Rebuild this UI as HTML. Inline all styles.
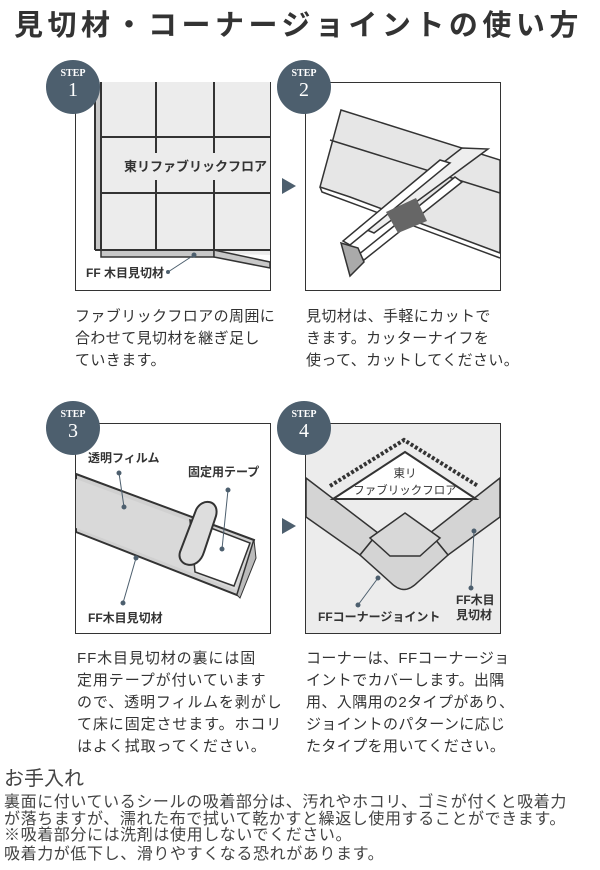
<!DOCTYPE html>
<html><head><meta charset="utf-8"><style>
body{margin:0;width:600px;height:870px;background:#fff;position:relative;overflow:hidden;font-family:"Liberation Sans","Noto Sans CJK JP",sans-serif;color:#333}
.a{position:absolute;white-space:nowrap}
.title{left:14px;top:2px;font-size:29px;font-weight:bold;letter-spacing:4.5px;color:#333}
.t{font-size:15px;color:#333;letter-spacing:0.4px}
.circ{position:absolute;width:54px;height:54px;border-radius:50%;background:#4d5f6e;color:#fff;text-align:center;font-family:"Liberation Serif",serif;font-weight:bold}
.circ .s{font-size:10px;display:block;margin-top:9px;line-height:10px}
.circ .n{font-size:20px;display:block;line-height:22px;font-weight:normal}
</style></head><body>
<div class="a title">見切材・コーナージョイントの使い方</div>

<svg class="a" style="left:0;top:0" width="600" height="870">
<!-- panel 1 -->
<rect x="75.5" y="82.5" width="195" height="208" fill="#fff" stroke="#333"/>
<polygon points="95,82 270,82 270,255 95,250" fill="#ececec"/>
<polygon points="95,82 101,82 101,250 95,250" fill="#c8c8c8"/>
<polygon points="101,250 214,250 214,257 101,257" fill="#c8c8c8" stroke="#333" stroke-width="1.5"/>
<polygon points="214,250 270,262 270,268 214,257" fill="#c8c8c8" stroke="#333" stroke-width="1.5"/>
<g stroke="#333" stroke-width="2" fill="none">
<line x1="95" y1="82" x2="95" y2="250"/><line x1="101" y1="82" x2="101" y2="250"/>
<line x1="95" y1="250" x2="270" y2="250"/>
<line x1="101" y1="137" x2="270" y2="137"/><line x1="101" y1="193" x2="270" y2="193"/>
<line x1="156" y1="82" x2="156" y2="153"/><line x1="156" y1="180" x2="156" y2="250"/>
<line x1="214" y1="82" x2="214" y2="153"/><line x1="214" y1="180" x2="214" y2="250"/>
</g>
<line x1="168" y1="272" x2="194" y2="255" stroke="#4d5f6e"/><circle cx="168" cy="272" r="2" fill="#4d5f6e"/><circle cx="194" cy="255" r="2.5" fill="#4d5f6e"/>
<text x="124" y="171" font-size="13" font-weight="bold" fill="#333">東リファブリックフロア</text>
<text x="86" y="277" font-size="12" font-weight="bold" fill="#333">FF 木目見切材</text>
<polygon points="282,178 282,194 296,186" fill="#4d5f6e"/>

<!-- panel 2 -->
<rect x="305.5" y="82.5" width="195" height="208" fill="#fff" stroke="#333"/>
<polygon points="341,110 500,160 500,253 350,197 320,187" fill="#e6e6e6" stroke="#333" stroke-width="1.5"/>
<polyline points="330,140 500,193" fill="none" stroke="#333" stroke-width="1.5"/>
<polyline points="320,187 322,192 500,258" fill="none" stroke="#333" stroke-width="1.5"/>
<polygon points="462,148 488,149 374,233 360,227" fill="#eee" stroke="#333" stroke-width="1.5"/>
<polygon points="440,160 450,163 350,245 343,241" fill="#fff" stroke="#333" stroke-width="1.5"/>
<polygon points="455,177 462,182 364,260 358,255" fill="#fff" stroke="#333" stroke-width="1.5"/>
<polygon points="386,212 416,198 427,221 398,233" fill="#666"/>
<polygon points="341,243 358,248 364,262 350,276" fill="#aaa" stroke="#333" stroke-width="1.5"/>

<!-- panel 3 -->
<rect x="75.5" y="423.5" width="195" height="210" fill="#fff" stroke="#333"/>
<polygon points="76,474 254,540 237,595 76,532" fill="#d0d0d0" stroke="#333" stroke-width="2"/>
<polygon points="76,479 250,544 236,590 76,528" fill="#d9d9d9"/>
<polygon points="190,520 250,543 234,586 195,572" fill="#fff" stroke="#333" stroke-width="1.5"/>
<polygon points="254,540 256,558 240,598 237,595" fill="#bbb" stroke="#333" stroke-width="1"/>
<path d="M180,552 L196,510 C202,497 220,500 216,516 L204,552 C198,572 176,566 180,552Z" fill="#ddd" stroke="#333" stroke-width="2"/>
<g stroke="#4d5f6e" fill="#4d5f6e">
<line x1="119" y1="473" x2="124" y2="507"/><circle cx="119" cy="473" r="2"/><circle cx="124" cy="507" r="2"/>
<line x1="228" y1="490" x2="222" y2="549"/><circle cx="228" cy="490" r="2"/><circle cx="222" cy="549" r="2"/>
<line x1="136" y1="558" x2="123" y2="603"/><circle cx="136" cy="558" r="2"/><circle cx="123" cy="603" r="2"/>
</g>
<text x="88" y="462" font-size="12" font-weight="bold" fill="#333">透明フィルム</text>
<text x="188" y="476" font-size="12" font-weight="bold" fill="#333">固定用テープ</text>
<text x="88" y="622" font-size="12" font-weight="bold" fill="#333">FF木目見切材</text>
<polygon points="282,518 282,534 296,526" fill="#4d5f6e"/>

<!-- panel 4 -->
<rect x="305.5" y="423.5" width="195" height="210" fill="#ececec" stroke="#333"/>
<polygon points="306,478 378,533 360,555 306,517" fill="#d4d4d4" stroke="#333" stroke-width="1.5"/>
<polygon points="500,478 430,533 448,555 500,517" fill="#d4d4d4" stroke="#333" stroke-width="1.5"/>
<path d="M360,555 L378,533 L400,552 L410,552 L430,533 L448,555 L418,582 C408,592 400,592 390,582 Z" fill="#d4d4d4" stroke="#333" stroke-width="1.5"/>
<polygon points="405,513 440,538 420,556 390,556 370,538" fill="#d8d8d8" stroke="#333" stroke-width="1.5"/>
<path d="M330,486 L404,440 L478,486" fill="none" stroke="#333" stroke-width="4" stroke-dasharray="3,2"/>
<polygon points="333,499 405,452 476,499" fill="#fff" stroke="#333" stroke-width="2"/>
<text x="405" y="477" font-size="11.5" text-anchor="middle" fill="#333">東リ</text>
<text x="405" y="494" font-size="11.5" text-anchor="middle" fill="#333">ファブリックフロア</text>
<g stroke="#4d5f6e" fill="#4d5f6e">
<line x1="378" y1="578" x2="358" y2="605"/><circle cx="378" cy="578" r="2"/><circle cx="358" cy="605" r="2"/>
<line x1="474" y1="531" x2="471" y2="588"/><circle cx="474" cy="531" r="2"/><circle cx="471" cy="588" r="2"/>
</g>
<text x="318" y="621" font-size="12" font-weight="bold" fill="#333">FFコーナージョイント</text>
<text x="456" y="604" font-size="12" font-weight="bold" fill="#333">FF木目</text>
<text x="456" y="619" font-size="12" font-weight="bold" fill="#333">見切材</text>
</svg>

<div class="circ" style="left:46px;top:60px"><span class="s">STEP</span><span class="n">1</span></div>
<div class="circ" style="left:277px;top:60px"><span class="s">STEP</span><span class="n">2</span></div>
<div class="circ" style="left:46px;top:401px"><span class="s">STEP</span><span class="n">3</span></div>
<div class="circ" style="left:277px;top:401px"><span class="s">STEP</span><span class="n">4</span></div>

<div class="a t" style="left:75px;top:306px;line-height:22px">ファブリックフロアの周囲に<br>合わせて見切材を継ぎ足し<br>ていきます。</div>
<div class="a t" style="left:306px;top:306px;line-height:22px">見切材は、手軽にカットで<br>きます。カッターナイフを<br>使って、カットしてください。</div>
<div class="a t" style="left:77px;top:648px;line-height:22px;letter-spacing:0.9px">FF木目見切材の裏には固<br>定用テープが付いています<br>ので、透明フィルムを剥がし<br>て床に固定させます。ホコリ<br>はよく拭取ってください。</div>
<div class="a t" style="left:306px;top:648px;line-height:22px">コーナーは、FFコーナージョ<br>イントでカバーします。出隅<br>用、入隅用の2タイプがあり、<br>ジョイントのパターンに応じ<br>たタイプを用いてください。</div>

<div class="a" style="left:4px;top:762px;font-size:20px;color:#444">お手入れ</div>
<div class="a" style="left:4px;top:795px;font-size:16px;line-height:16.5px;color:#444;letter-spacing:0.6px">裏面に付いているシールの吸着部分は、汚れやホコリ、ゴミが付くと吸着力<br>が落ちますが、濡れた布で拭いて乾かすと繰返し使用することができます。<br>※吸着部分には洗剤は使用しないでください。<br><span style="position:relative;top:2px">吸着力が低下し、滑りやすくなる恐れがあります。</span></div>
</body></html>
